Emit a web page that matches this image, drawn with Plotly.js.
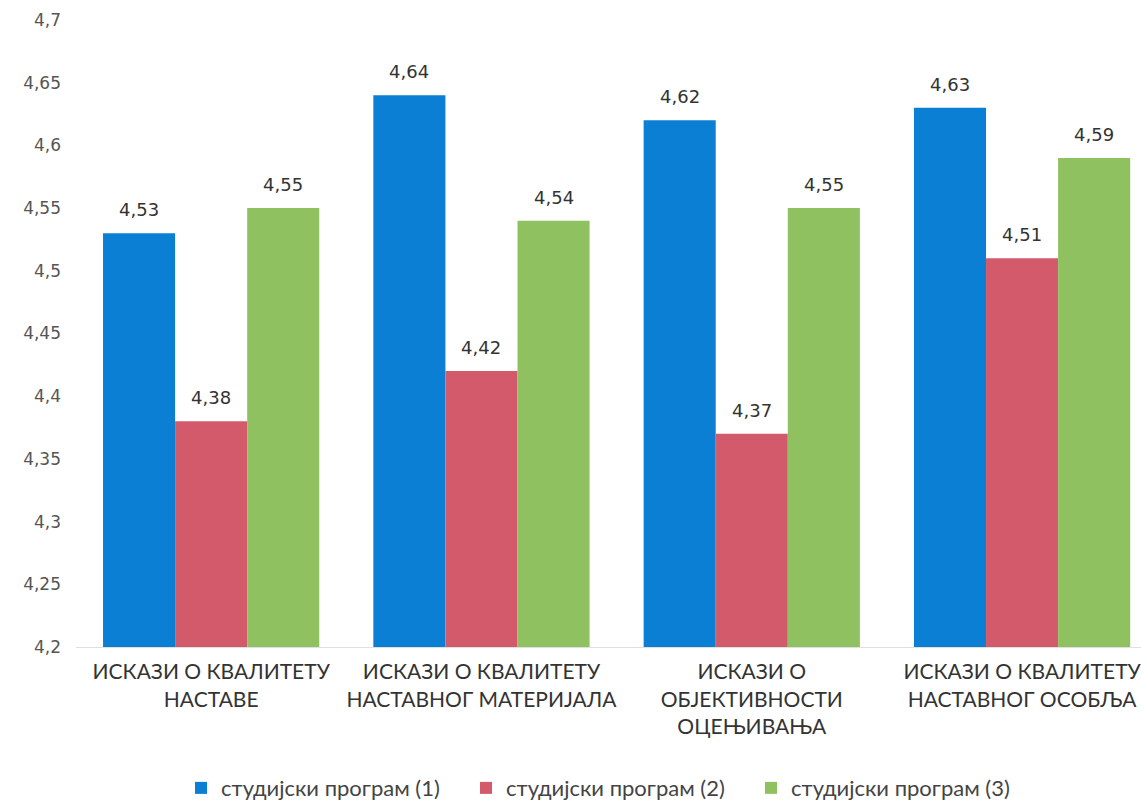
<!DOCTYPE html>
<html><head><meta charset="utf-8">
<script src="https://cdn.plot.ly/plotly-3.0.1.min.js"></script>
<style>html,body{margin:0;padding:0;background:#fff}#c{width:1141px;height:804px}</style>
</head><body><div id="c"></div>
<script>
const categories = ["ИСКАЗИ О КВАЛИТЕТУ<br>НАСТАВЕ","ИСКАЗИ О КВАЛИТЕТУ<br>НАСТАВНОГ МАТЕРИЈАЛА","ИСКАЗИ О<br>ОБЈЕКТИВНОСТИ<br>ОЦЕЊИВАЊА","ИСКАЗИ О КВАЛИТЕТУ<br>НАСТАВНОГ ОСОБЉА"];
const seriesNames = ["студијски програм (1)","студијски програм (2)","студијски програм (3)"];
const program1 = [4.53, 4.64, 4.62, 4.63];
const program2 = [4.38, 4.42, 4.37, 4.51];
const program3 = [4.55, 4.54, 4.55, 4.59];
const yTicks = [4.2,4.25,4.3,4.35,4.4,4.45,4.5,4.55,4.6,4.65,4.7];
const colors = ["#0b7fd3","#d35a6b","#8fc161"];
const fmt = v => String(v).replace('.', ',');
const allSeries = [program1, program2, program3];
const traces = allSeries.map((vals, i) => ({
  type: 'bar', x: categories, y: vals, name: seriesNames[i],
  marker: {color: colors[i]}
}));
const xRange = [-0.5, 3.44];
const plotW = 1141 - 76;
const bargap = 0.2;
const barPx = plotW / (xRange[1] - xRange[0]) * (1 - bargap) / 3;
const annotations = [];
allSeries.forEach((vals, i) => vals.forEach((v, j) => annotations.push({
  x: categories[j], y: v, xref: 'x', yref: 'y', text: fmt(v), showarrow: false,
  xanchor: 'center', yanchor: 'bottom', xshift: (i - 1) * barPx, yshift: 11,
  font: {family: 'DejaVu Sans', size: 18, color: '#333'}
})));
const layout = {
  width: 1141, height: 804,
  margin: {l: 76, r: 0, t: 20, b: 157, autoexpand: false},
  separators: ',.',
  barmode: 'group', bargap: bargap, bargroupgap: 0,
  paper_bgcolor: '#fff', plot_bgcolor: '#fff',
  showlegend: true,
  annotations: annotations,
  legend: {orientation: 'h', x: 0.5, xref: 'paper', xanchor: 'center', y: -0.225, yanchor: 'middle',
    font: {family: 'Lato', size: 22, color: '#444'}, traceorder: 'normal',
    entrywidth: 240, entrywidthmode: 'pixels'},
  xaxis: {range: xRange, showgrid: false, zeroline: false, showline: true, linecolor: '#e0e0e0', ticks: '',
    ticklabelstandoff: 6,
    tickfont: {family: 'Lato', size: 21, color: '#333'}, automargin: false},
  yaxis: {range: [4.2, 4.7], tickvals: yTicks, showgrid: false, zeroline: false, showline: false, ticks: '',
    ticklabelstandoff: 14,
    tickfont: {family: 'DejaVu Sans', size: 17, color: '#555'}, automargin: false},
  font: {family: 'Lato'}
};
Plotly.newPlot('c', traces, layout, {displayModeBar: false, staticPlot: true});
</script></body></html>
